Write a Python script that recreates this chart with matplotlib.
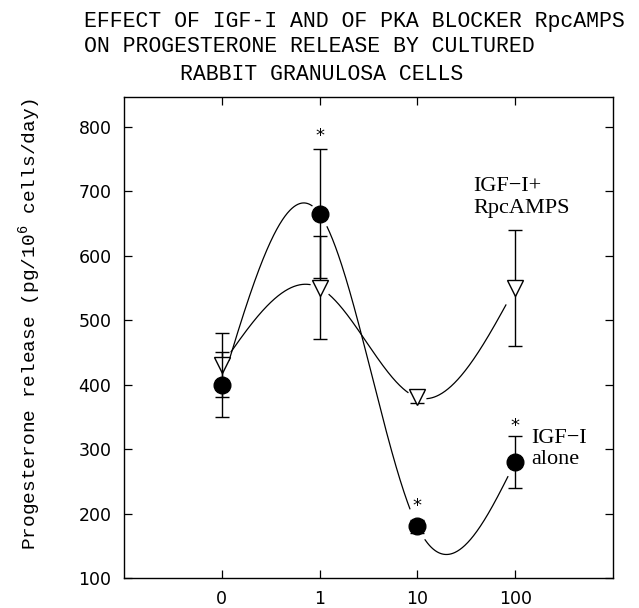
import numpy as np
import matplotlib.pyplot as plt

doses = ['0', '1', '10', '100']

# IGF-I alone (filled circles)
igf_alone = [400, 665, 180, 280]
igf_alone_err = [50, 100, 10, 40]

# IGF-I + RpcAMPS (open triangles)
igf_rp = [430, 550, 380, 550]
igf_rp_err = [50, 80, 8, 90]

# doses marked as significant on the IGF-I alone curve
star_idx = [1, 2, 3]
star_y = [785, 211, 336]


def natural_spline(y, n=600):
    # natural cubic spline through points at x = 0, 1, 2, ...
    y = np.asarray(y, float)
    k = len(y)
    A = np.zeros((k, k))
    b = np.zeros(k)
    A[0, 0] = A[-1, -1] = 1
    for i in range(1, k - 1):
        A[i, i - 1:i + 2] = [1, 4, 1]
        b[i] = 6 * (y[i - 1] - 2 * y[i] + y[i + 1])
    M = np.linalg.solve(A, b)
    xs = np.linspace(0, k - 1, n)
    i = np.minimum(xs.astype(int), k - 2)
    t = xs - i
    ys = (y[i] * (1 - t) + y[i + 1] * t
          + ((1 - t) ** 3 - (1 - t)) * M[i] / 6 + (t ** 3 - t) * M[i + 1] / 6)
    return xs, ys


def with_gaps(xs, ys, gap):
    # leave a small break around each marker, like the original drawing
    ys = ys.copy()
    ys[np.abs(xs - np.round(xs)) < gap] = np.nan
    return xs, ys


fig = plt.figure(figsize=(6.39, 6.08), dpi=100)
ax = fig.add_axes([124 / 639, 1 - 578 / 608, 489 / 639, 481 / 608])

x = np.arange(len(doses))

xs, ys = with_gaps(*natural_spline(igf_alone), 0.075)
ax.plot(xs, ys, color='black', lw=0.9)
xs, ys = with_gaps(*natural_spline(igf_rp), 0.095)
ax.plot(xs, ys, color='black', lw=0.9)

ax.errorbar(x, igf_rp, yerr=igf_rp_err, fmt='v', color='black', mfc='white',
            mec='black', ms=12, mew=1.0, capsize=5, elinewidth=1.0, capthick=1.0,
            zorder=3)
ax.errorbar(x, igf_alone, yerr=igf_alone_err, fmt='o', color='black', mfc='black',
            ms=12, capsize=5, elinewidth=1.0, capthick=1.0, zorder=4)

for i, yv in zip(star_idx, star_y):
    ax.text(i, yv, '*', ha='center', va='center', fontsize=13,
            family='DejaVu Sans')

ax.text(2.57, 690, 'IGF\u2212I+\nRpcAMPS', ha='left', va='center', fontsize=16,
        family='Liberation Serif', linespacing=1.2)
ax.text(3.16, 300, 'IGF\u2212I\nalone', ha='left', va='center', fontsize=16,
        family='Liberation Serif', linespacing=1.2)

ax.set_xlim(-1, 4)
ax.set_ylim(100, 846)
ax.set_xticks(x)
ax.set_xticklabels(doses)
ax.set_yticks(range(100, 801, 100))
ax.tick_params(direction='in', length=6, width=0.9, top=True, right=True,
               labelsize=12.5, pad=9)
for s in ax.spines.values():
    s.set_linewidth(1.0)

fig.text(30 / 639, 1 - 324 / 608,
         'Progesterone release (pg/10$^{\\mathregular{6}}$ cells/day)',
         rotation=90, ha='center', va='center', fontsize=14,
         family='Liberation Mono')

title_font = dict(fontsize=15.5, family='Liberation Mono', ha='left', va='center')
fig.text(84 / 639, 1 - 22 / 608, 'EFFECT OF IGF-I AND OF PKA BLOCKER RpcAMPS', **title_font)
fig.text(84 / 639, 1 - 47 / 608, 'ON PROGESTERONE RELEASE BY CULTURED', **title_font)
fig.text(180 / 639, 1 - 74 / 608, 'RABBIT GRANULOSA CELLS', **title_font)

fig.savefig('out.png', dpi=100)
